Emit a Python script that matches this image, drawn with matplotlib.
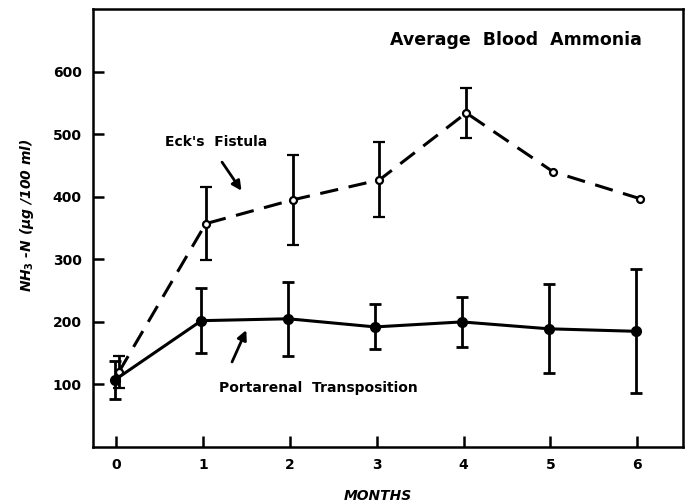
import numpy as np
import matplotlib
matplotlib.use('Agg')
import matplotlib.pyplot as plt

# values
months = [0, 1, 2, 3, 4, 5, 6]
eck_mean = [120, 357, 395, 427, 534, 440, 397]
eck_err = [25, 58, 72, 60, 40, 0, 0]
porta_mean = [107, 202, 205, 192, 200, 189, 185]
porta_err = [30, 52, 59, 36, 40, 71, 99]
yticks = [100, 200, 300, 400, 500, 600]

plt.rcParams['font.family'] = 'DejaVu Sans'
plt.rcParams['font.weight'] = 'bold'

fig = plt.figure(figsize=(6.93, 5.04), dpi=100)
ax = fig.add_axes([0.134, 0.113, 0.852, 0.869])

# eck's fistula, dashed with open circles
eck_yerr = [e if e > 0 else np.nan for e in eck_err]
ax.errorbar(np.array(months) + 0.03, eck_mean, yerr=eck_yerr, fmt='o', ms=5,
            mfc='white', mec='k', mew=1.6, ecolor='k', elinewidth=2,
            capsize=4, capthick=2, zorder=3)
ax.plot(np.array(months) + 0.03, eck_mean, '--', color='k', lw=2.2,
        dashes=(6, 3.5), zorder=2)

# portarenal transposition, solid with filled circles
ax.errorbar(np.array(months) - 0.02, porta_mean, yerr=porta_err, fmt='-o', ms=7,
            color='k', lw=2.2, elinewidth=2, capsize=4, capthick=2, zorder=3)

ax.set_xlim(-0.27, 6.53)
ax.set_ylim(0, 700)
ax.set_xticks(months)
ax.set_yticks(yticks)
ax.tick_params(direction='in', length=8, width=1.8, labelsize=10, pad=8)
for lab in ax.get_xticklabels() + ax.get_yticklabels():
    lab.set_fontweight('bold')
for s in ax.spines.values():
    s.set_linewidth(1.8)

ax.set_xlabel('MONTHS', fontsize=10, fontweight='bold', style='italic',
              labelpad=12, x=0.482)
ax.set_ylabel(r'NH$_3$ -N ($\mu$g /100 ml)', fontsize=10, fontweight='bold',
              style='italic', labelpad=12, y=0.53)

ax.text(4.6, 650, 'Average  Blood  Ammonia', ha='center', va='center',
        fontsize=12.5, fontweight='bold')

ax.text(1.15, 487, "Eck's  Fistula", ha='center', va='center', fontsize=10,
        fontweight='bold')
ax.annotate('', xy=(1.46, 406), xytext=(1.2, 459),
            arrowprops=dict(arrowstyle='-|>', lw=2, color='k', mutation_scale=14))

ax.text(2.33, 95, 'Portarenal  Transposition', ha='center', va='center',
        fontsize=10, fontweight='bold')
ax.annotate('', xy=(1.51, 191), xytext=(1.32, 132),
            arrowprops=dict(arrowstyle='-|>', lw=2, color='k', mutation_scale=14))

fig.savefig('out.png', dpi=100)
